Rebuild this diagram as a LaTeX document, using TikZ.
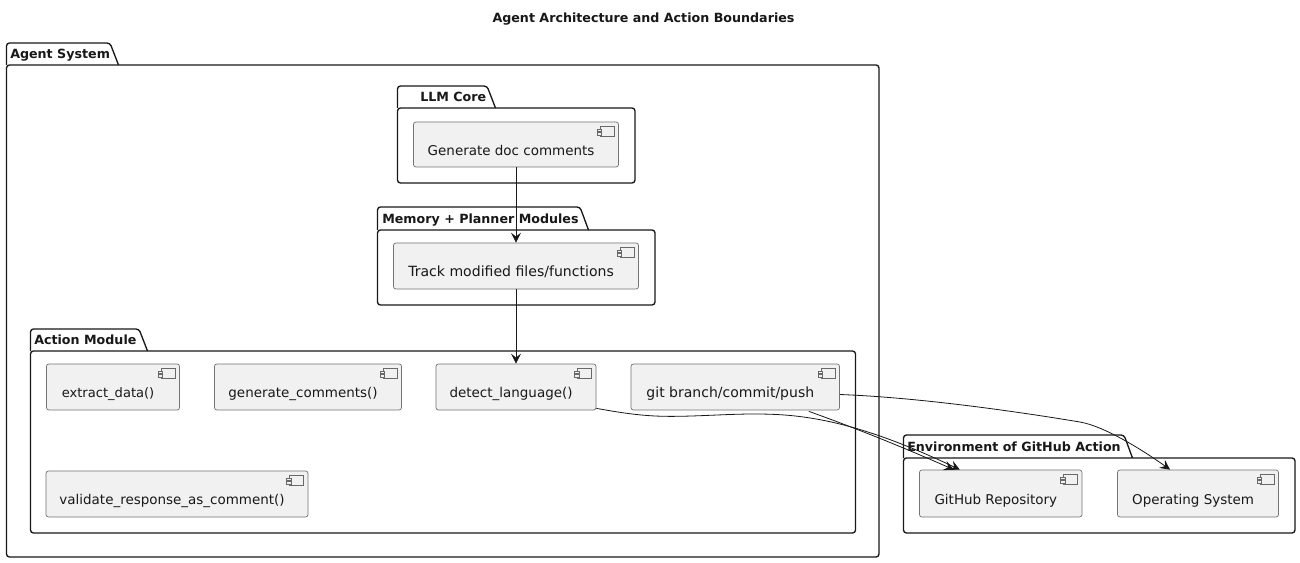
\documentclass[tikz,border=0pt]{standalone}
\usepackage{fontspec}
\setmainfont{DejaVu Sans}
\usetikzlibrary{arrows.meta,calc,fit}
\definecolor{ink}{HTML}{181818}
\definecolor{boxfill}{HTML}{F1F1F1}
\tikzset{
  x=0.75pt,y=-0.75pt,
  comp/.style 2 args={draw=ink!60,line width=0.55pt,fill=boxfill,rounded corners=1.8pt,inner sep=0pt,
    minimum width=#1*0.75pt,minimum height=#2*0.75pt,text=ink,font=\fontsize{10.1}{12}\selectfont},
  pkgbody/.style={draw=ink,line width=1pt,rounded corners=2.2pt,inner sep=0pt,fit={#1}},
  pkgtab/.style={draw=ink,line width=1pt,rounded corners=2.2pt},
  pkglabel/.style={anchor=base west,inner sep=0pt,text=ink,font=\fontsize{9.5}{12}\selectfont\bfseries},
  flow/.style={draw=ink,line width=0.6pt,-{Stealth[length=7.5pt,width=7.5pt,inset=3pt]}},
  icon/.style={draw=ink!65,line width=0.5pt,fill=boxfill}
}
\newcommand{\complabel}[2][10.1]{\raisebox{-5.4pt}[7pt][2pt]{\fontsize{#1}{12}\selectfont #2}\kern 7.4pt}
% name, left, tab top, body top, right, bottom, tab right, label x, text
\newcommand{\pkgframe}[9]{%
  \node[pkgbody={(#2,#4) (#5,#6)}] (#1) {};
  \draw[pkgtab] (#2,#4) -- (#2,#3) -- (#7,#3) -- (#7+8.5,#4);
  \node[pkglabel] (#1label) at (#8,#4-6.5) {#9};
}
\begin{document}
\begin{tikzpicture}
\useasboundingbox[fill=white] (0,0) rectangle (1300,563);
\node[anchor=base,inner sep=0pt,text=ink,font=\fontsize{9.5}{12}\selectfont\bfseries] (title) at (643.5,23) {Agent Architecture and Action Boundaries};

\pkgframe{agent}{6.5}{43}{65}{879}{557}{110}{10}{Agent System}
\pkgframe{llm}{397.5}{86}{108}{635}{183}{487}{420}{LLM Core}
\pkgframe{memory}{377.5}{207}{230}{655}{305}{580}{382}{Memory + Planner Modules}
\pkgframe{action}{30.5}{329}{351}{855.5}{533}{139}{34}{Action Module}
\pkgframe{env}{903.5}{435}{458}{1295}{533}{1124}{907}{Environment of GitHub Action}

\node[comp={205}{45}] (gen) at (516,144.5) {\complabel{Generate doc comments}};
\node[comp={245}{46}] (track) at (516,266) {\complabel[10.55]{Track modified files/functions}};
\node[comp={133}{46}] (extract) at (113,387) {\complabel[9.8]{extract\_data()}};
\node[comp={187}{46}] (gencom) at (308,387) {\complabel{generate\_comments()}};
\node[comp={160}{46}] (detect) at (516,387) {\complabel{detect\_language()}};
\node[comp={208.5}{46}] (git) at (735.25,387) {\complabel[10.5]{git branch/commit/push}};
\node[comp={262}{46}] (validate) at (177,494) {\complabel{validate\_response\_as\_comment()}};
\node[comp={162.5}{47}] (repo) at (1000.75,493.5) {\complabel{GitHub Repository}};
\node[comp={161}{47}] (os) at (1198,493.5) {\complabel{Operating System}};

\foreach \n in {gen,track,extract,gencom,detect,git,validate,repo,os}{
  \draw[icon] ($(\n.north east)+(-18.7,5)$) rectangle ($(\n.north east)+(-4.7,15)$);
  \draw[icon] ($(\n.north east)+(-22,7.3)$) rectangle ($(\n.north east)+(-17.5,9.8)$);
  \draw[icon] ($(\n.north east)+(-22,11)$) rectangle ($(\n.north east)+(-17.5,13.5)$);
}

\draw[flow] (gen.south) -- (track.north);
\draw[flow] (track.south) -- (detect.north);
\draw[flow] ($(detect.south east)+(0,-2)$)
  .. controls +(28,5) and +(-26,0) .. ($(detect.south east)+(74,6)$)
  .. controls +(35,0) and +(-35,-1.5) .. ($(detect.south east)+(177,4)$)
  .. controls +(52,2) and +(-80,-38) .. ($(repo.north)+(-41,0)$);
\draw[flow] ($(git.south east)+(-31,1)$) .. controls +(50,18) and +(-50,-22) .. ($(repo.north)+(-47,0)$);
\draw[flow] ($(git.east)+(0,7.5)$)
  .. controls +(80,3) and +(-60,-10) .. ($(git.east)+(240,35)$)
  .. controls +(25,4.2) and +(-25,-18) .. ($(os.north)+(-28,0)$);
\end{tikzpicture}
\end{document}
